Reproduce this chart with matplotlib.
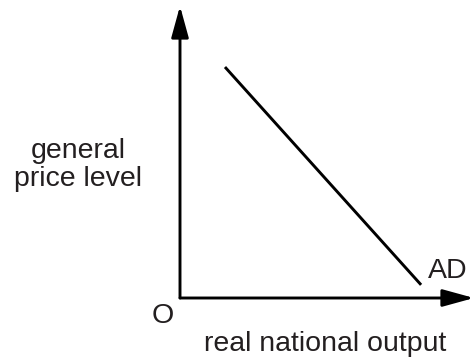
import matplotlib.pyplot as plt
from matplotlib.patches import ArrowStyle

plt.rcParams['font.family'] = ['Liberation Sans', 'DejaVu Sans']

# AD curve end points (output, price level)
ad_output = [1.53, 8.2]
ad_price = [7.91, 0.45]

x_label = "real national output"
y_label = "general\nprice level"
curve_label = "AD"
origin_label = "O"

ink = '#231f20'

fig = plt.figure(figsize=(4.74, 3.58), dpi=100)
ax = fig.add_axes([180 / 474, 60 / 358, 294 / 474, 292 / 358])
ax.set_xlim(0, 10)
ax.set_ylim(0, 10)
ax.axis('off')

# axes drawn as arrows
head = ArrowStyle('-|>', head_length=0.8, head_width=0.22)
for tip in [(1.0, 0.0), (0.0, 1.0)]:
    ax.annotate('', xy=tip, xytext=(0, 0), xycoords='axes fraction',
                arrowprops=dict(arrowstyle=head, mutation_scale=24,
                                lw=2.1, color='black',
                                shrinkA=0, shrinkB=0),
                annotation_clip=False)

# aggregate demand line
ax.plot(ad_output, ad_price, color='black', lw=2.1, solid_capstyle='butt')

fs = 20.5
fig.text(428 / 474, 1 - 278 / 358, curve_label, fontsize=fs, color=ink,
         ha='left', va='baseline')
fig.text(163 / 474, 1 - 316 / 358, origin_label, fontsize=fs, color=ink,
         ha='center', va='center')
fig.text(325 / 474, 1 - 351 / 358, x_label, fontsize=fs, color=ink,
         ha='center', va='baseline')
fig.text(78 / 474, 1 - 165 / 358, y_label, fontsize=fs, color=ink,
         ha='center', va='center', multialignment='center', linespacing=1.15)

fig.savefig('out.png', dpi=100)
